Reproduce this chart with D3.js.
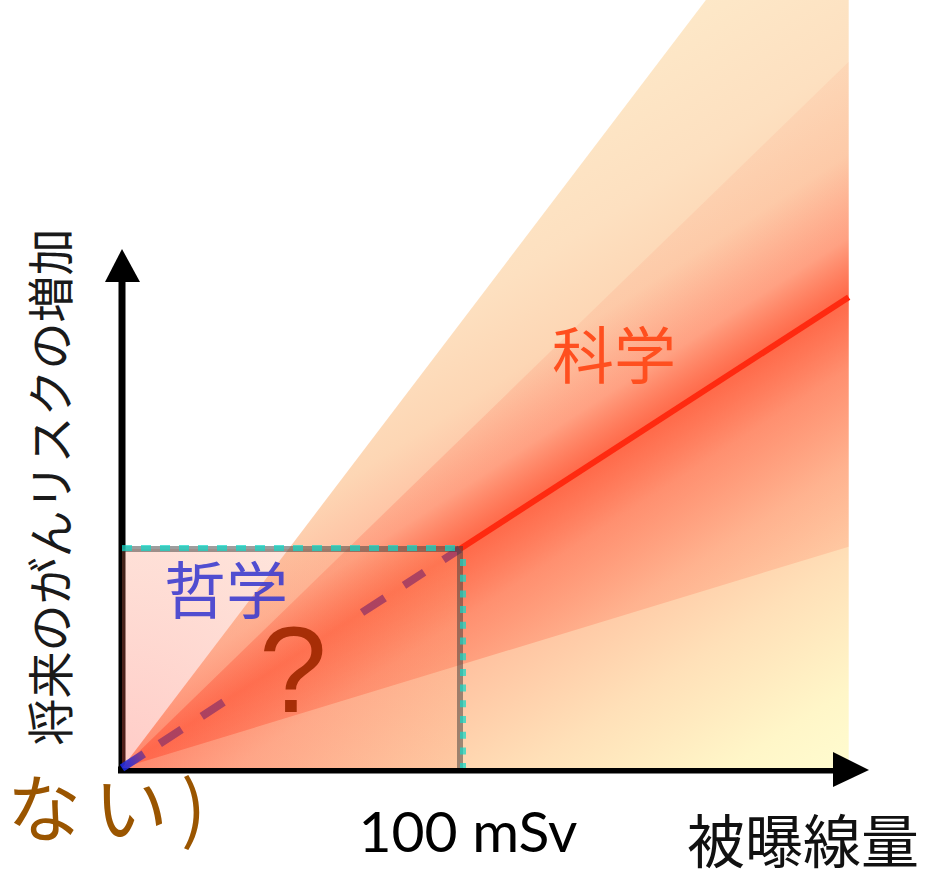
<!DOCTYPE html>
<html><head><meta charset="utf-8">
<script src="https://cdn.jsdelivr.net/npm/d3@7"></script>
<style>html,body{margin:0;padding:0;background:#fff;overflow:hidden}</style>
</head><body>
<svg id="c" width="927" height="870"></svg>
<script>
// ---- data ----
const doseTicks = [100];
const doseTickLabels = ["100 mSv"];
const lntDose = [0, 100, 215];          // mSv
const lntRisk = [0, 1, 2.15];           // relative risk units
const outerFan = [0, 2.03];             // band limits as multiples of the LNT slope
const innerFan = [0.47, 1.5];
const boxDose = [0, 100];
const boxRisk = [0, 1];
const axisDoseMax = 221;
const axisRiskMax = 2.37;
const textLabels = {
  yTitle: "将来のがんリスクの増加",
  xTitle: "被曝線量",
  science: "科学",
  philosophy: "哲学",
  unknown: "?",
  maybe: "わからない)"
};

// ---- scales ----
const svg = d3.select("#c");
const x = d3.scaleLinear().domain([0, 100]).range([122, 460]);
const y = d3.scaleLinear().domain([0, 1]).range([768, 549]);
const dMax = lntDose[lntDose.length - 1];
const slope = lntRisk[1] / lntDose[1];

const defs = svg.append("defs");
// gradient perpendicular to the LNT line
const ox = x(0), oy = y(0);
const ux = x(100) - ox, uy = y(1) - oy;
const ul = Math.hypot(ux, uy);
const nx = -uy / ul, ny = ux / ul; // normal
const nnx = nx > 0 ? nx : -nx, nny = nx > 0 ? ny : -ny;
const R = 400;
function perpGrad(id, stops) {
  const g = defs.append("linearGradient").attr("id", id)
    .attr("gradientUnits", "userSpaceOnUse")
    .attr("x1", ox - nnx * R).attr("y1", oy - nny * R)
    .attr("x2", ox + nnx * R).attr("y2", oy + nny * R);
  stops.forEach(s => g.append("stop").attr("offset", (s[0] + R) / (2 * R))
    .attr("stop-color", s[1]).attr("stop-opacity", s[2] == null ? 1 : s[2]));
}
perpGrad("gA", [
  [-400, "#fdecce"], [-330, "#fde8c8"], [-200, "#fde0c0"], [-120, "#fdd6b4"],
  [-50, "#ffbea0"], [0, "#ff9878"], [60, "#ffb898"], [140, "#ffcca8"],
  [220, "#ffe0b8"], [330, "#fff6c8"], [400, "#fffcd0"]
]);
perpGrad("gB", [
  [-210, "#ff3a1a", 0.05], [-120, "#ff3a1a", 0.08], [-50, "#ff3a1a", 0.22],
  [0, "#ff3a1a", 0.5], [60, "#ff3a1a", 0.32], [140, "#ff3a1a", 0.18],
  [220, "#ff3a1a", 0.12]
]);
const rg = defs.append("radialGradient").attr("id", "gBox")
  .attr("gradientUnits", "userSpaceOnUse").attr("cx", ox).attr("cy", oy).attr("r", 420);
rg.append("stop").attr("offset", 0).attr("stop-color", "rgb(255,95,80)").attr("stop-opacity", 0.32);
rg.append("stop").attr("offset", 1).attr("stop-color", "rgb(250,170,120)").attr("stop-opacity", 0.2);
const dg = defs.append("linearGradient").attr("id", "gDash")
  .attr("gradientUnits", "userSpaceOnUse")
  .attr("x1", x(0)).attr("y1", y(0)).attr("x2", x(8)).attr("y2", y(0.08));
dg.append("stop").attr("offset", 0).attr("stop-color", "#1428e0");
dg.append("stop").attr("offset", 0.35).attr("stop-color", "#3a30c8");
dg.append("stop").attr("offset", 1).attr("stop-color", "#a33d62");

function wedge(band) {
  return [[x(0), y(0)], [x(dMax), y(band[0] * slope * dMax)], [x(dMax), y(band[1] * slope * dMax)]];
}
const line = d3.line();

// ---- axes (under fan) ----
const axes = svg.append("g");
axes.append("path").attr("d", line([[x(0), y(0) + 2], [x(0), y(axisRiskMax) + 30]]))
  .attr("stroke", "#000").attr("stroke-width", 7).attr("fill", "none");
axes.append("path").attr("d", line([[x(0) - 4, y(0) + 2], [x(axisDoseMax) - 30, y(0) + 2]]))
  .attr("stroke", "#000").attr("stroke-width", 7).attr("fill", "none");

// ---- fan ----
svg.append("path").attr("d", line(wedge(outerFan)) + "Z").attr("fill", "url(#gA)");
svg.append("path").attr("d", line(wedge(innerFan)) + "Z").attr("fill", "url(#gB)");

// ---- box fill ----
svg.append("rect").attr("x", x(boxDose[0])).attr("y", y(boxRisk[1]))
  .attr("width", x(boxDose[1]) - x(boxDose[0])).attr("height", y(boxRisk[0]) - y(boxRisk[1]))
  .attr("fill", "url(#gBox)");

// ---- texts inside ----
svg.append("text").text(textLabels.philosophy).attr("x", 164).attr("y", 614)
  .attr("font-family", "Noto Sans CJK JP").attr("font-size", 62)
  .attr("fill", "#3a3ad0").attr("opacity", 0.88);
svg.append("text").text(textLabels.unknown).attr("x", 293).attr("y", 712)
  .attr("text-anchor", "middle").attr("font-family", "Liberation Sans").attr("font-size", 122)
  .attr("fill", "#a02800").attr("opacity", 0.92);

// ---- LNT line: dashed below 100 mSv, solid above ----
svg.append("path").attr("d", line([[x(lntDose[0]), y(lntRisk[0])], [x(lntDose[1]), y(lntRisk[1])]]))
  .attr("stroke", "url(#gDash)").attr("stroke-width", 8).attr("fill", "none")
  .attr("stroke-dasharray", "26 19 26 24 26 165 27 23 24 23 30")
  .attr("opacity", 0.9);
svg.append("path").attr("d", line([[x(lntDose[1]), y(lntRisk[1])], [x(lntDose[2]), y(lntRisk[2])]]))
  .attr("stroke", "#ff2a10").attr("stroke-width", 6).attr("fill", "none");

// ---- box border ----
const bx0 = x(boxDose[0]), bx1 = x(boxDose[1]), by0 = y(boxRisk[0]), by1 = y(boxRisk[1]);
svg.append("path").attr("d", line([[bx0, by1], [bx1, by1], [bx1, by0]]))
  .attr("stroke", "rgba(60,60,60,0.5)").attr("stroke-width", 6).attr("fill", "none");
svg.append("path").attr("d", line([[bx0, by1 - 1], [bx1 + 3, by1 - 1]]))
  .attr("stroke", "#14d8c8").attr("stroke-width", 6).attr("fill", "none")
  .attr("stroke-dasharray", "10 9").attr("opacity", 0.72);
svg.append("path").attr("d", line([[bx1 + 3, by1 + 10], [bx1 + 3, by0]]))
  .attr("stroke", "#14d8c8").attr("stroke-width", 6).attr("fill", "none")
  .attr("stroke-dasharray", "7 8.7").attr("opacity", 0.72);

// ---- arrowheads ----
const yTip = y(axisRiskMax), xTip = x(axisDoseMax);
svg.append("path").attr("d", line([[x(0), yTip], [x(0) - 17, yTip + 33], [x(0) + 18, yTip + 33]]) + "Z").attr("fill", "#000");
svg.append("path").attr("d", line([[xTip, y(0) + 2], [xTip - 36, y(0) - 16], [xTip - 36, y(0) + 19]]) + "Z").attr("fill", "#000");

// ---- labels ----
svg.append("text").text(textLabels.science).attr("x", 552).attr("y", 379)
  .attr("font-family", "Noto Sans CJK JP").attr("font-size", 62).attr("fill", "#ff4f1f");
svg.append("text").text(textLabels.yTitle)
  .attr("transform", "translate(47,487) rotate(-90)")
  .attr("text-anchor", "middle").attr("dominant-baseline", "central")
  .attr("font-family", "Noto Sans CJK JP").attr("font-size", 47).attr("fill", "#1a1a1a");
svg.append("text").text(textLabels.xTitle).attr("x", 687).attr("y", 863)
  .attr("font-family", "Noto Sans CJK JP").attr("font-size", 58).attr("fill", "#111");
svg.selectAll("text.tick").data(doseTicks).enter().append("text").attr("class", "tick")
  .text((d, i) => doseTickLabels[i]).attr("x", d => x(d) + 8).attr("y", 852)
  .attr("text-anchor", "middle").attr("font-family", "Lato").attr("font-size", 57).attr("fill", "#000");
svg.append("text").text(textLabels.maybe).attr("x", -254).attr("y", 836)
  .attr("font-family", "Noto Sans CJK JP").attr("font-size", 74).attr("letter-spacing", 13)
  .attr("fill", "#9a5500");
</script>
</body></html>
